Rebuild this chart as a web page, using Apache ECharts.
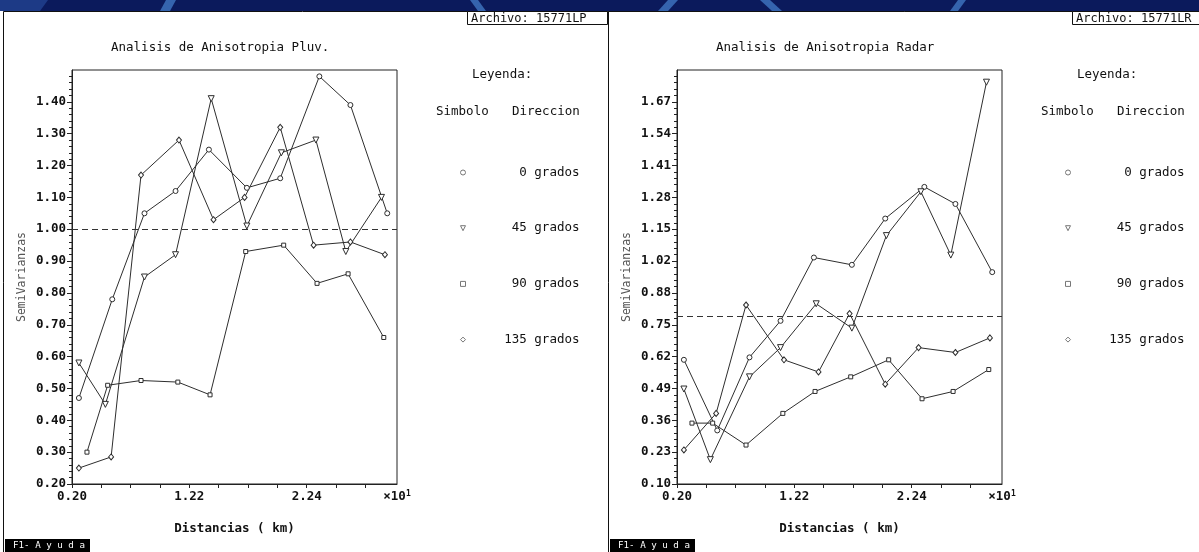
<!DOCTYPE html>
<html>
<head>
<meta charset="utf-8">
<script src="https://cdn.jsdelivr.net/npm/echarts@6/dist/echarts.min.js"></script>
<style>
  html, body { margin: 0; padding: 0; background: #ffffff; }
  #chart { width: 1199px; height: 552px; }
</style>
</head>
<body>
<div id="chart"></div>
<script>
// Lag distances (x10 km) for each direction
const dist0   = [0.26, 0.55, 0.83, 1.10, 1.39, 1.72, 2.01, 2.35, 2.62, 2.94];
const dist45  = [0.26, 0.49, 0.83, 1.10, 1.41, 1.72, 2.02, 2.32, 2.58, 2.89];
const dist90  = [0.33, 0.51, 0.80, 1.12, 1.40, 1.71, 2.04, 2.33, 2.60, 2.91];
const dist135 = [0.26, 0.54, 0.80, 1.13, 1.43, 1.70, 2.01, 2.30, 2.62, 2.92];

// Directional semivariances, rain gauges (Pluv.)
const pluv0   = [0.47, 0.78, 1.05, 1.12, 1.25, 1.13, 1.16, 1.48, 1.39, 1.05];
const pluv45  = [0.58, 0.45, 0.85, 0.92, 1.41, 1.01, 1.24, 1.28, 0.93, 1.10];
const pluv90  = [0.30, 0.51, 0.525, 0.52, 0.48, 0.93, 0.95, 0.83, 0.86, 0.66];
const pluv135 = [0.25, 0.285, 1.17, 1.28, 1.03, 1.10, 1.32, 0.95, 0.96, 0.92];

// Directional semivariances, radar
const radar0   = [0.61, 0.32, 0.62, 0.77, 1.03, 1.00, 1.19, 1.32, 1.25, 0.97];
const radar45  = [0.49, 0.20, 0.54, 0.66, 0.84, 0.74, 1.12, 1.30, 1.04, 1.75];
const radar90  = [0.35, 0.35, 0.26, 0.39, 0.48, 0.54, 0.61, 0.45, 0.48, 0.57];
const radar135 = [0.24, 0.39, 0.835, 0.61, 0.56, 0.80, 0.51, 0.66, 0.64, 0.70];

// Sill (total variance) reference lines
const pluvSill  = 1.00;
const radarSill = 0.79;

// Axis tick labels
const directions   = ['0 grados', '45 grados', '90 grados', '135 grados'];
const xTickLabels  = ['0.20', '1.22', '2.24'];
const pluvYLabels  = ['0.20', '0.30', '0.40', '0.50', '0.60', '0.70', '0.80', '0.90', '1.00', '1.10', '1.20', '1.30', '1.40'];
const radarYLabels = ['0.10', '0.23', '0.36', '0.49', '0.62', '0.75', '0.88', '1.02', '1.15', '1.28', '1.41', '1.54', '1.67'];

const MONO = 'DejaVu Sans Mono';
const INK = '#2e2e2e';
const X_MIN = 0.20, X_MAX = 3.025, X_STEP = 0.255;

const dirStyles = [
  { dist: dist0,   symbol: 'circle',                     size: 5 },
  { dist: dist45,  symbol: 'path://M0,0L10,0L5,10Z',      size: [6, 6] },
  { dist: dist90,  symbol: 'rect',                       size: 4 },
  { dist: dist135, symbol: 'diamond',                    size: [5, 6] }
];

const panels = [
  { title: 'Analisis de Anisotropia Pluv.', file: 'Archivo: 15771LP', yMin: 0.20, yMax: 1.50,
    yLabels: pluvYLabels, sill: pluvSill, values: [pluv0, pluv45, pluv90, pluv135], dx: 0, boxW: 140 },
  { title: 'Analisis de Anisotropia Radar', file: 'Archivo: 15771LR', yMin: 0.10, yMax: 1.80,
    yLabels: radarYLabels, sill: radarSill, values: [radar0, radar45, radar90, radar135], dx: 605, boxW: 160 }
];

function majorTicks(min, max) {
  const step = (max - min) / 13;
  const out = [];
  for (let k = 0; k <= 12; k++) out.push(min + k * step);
  return out;
}
function minorTicks(min, max) {
  const step = (max - min) / 65;
  const out = [];
  for (let j = 1; j < 65; j++) if (j % 5) out.push(min + j * step);
  return out;
}
const xTickValues = [];
for (let k = 0; k <= 10; k++) xTickValues.push(X_MIN + k * X_STEP);
const xLabelValues = xTickLabels.map(Number).concat([X_MAX]);

const grids = [], xAxes = [], yAxes = [], series = [], legends = [], titles = [], graphics = [];

// Screen frame: blue header band with light slanted stripes
graphics.push({ type: 'rect', shape: { x: 0, y: 0, width: 1199, height: 11 }, style: { fill: '#0b1a5c' }, silent: true });
graphics.push({ type: 'polygon', shape: { points: [[0, 0], [48, 0], [40, 11], [0, 11]] }, style: { fill: '#1d3a86' }, silent: true });
[
  [[166, 0], [176, 0], [170, 11], [160, 11]],
  [[470, 0], [478, 0], [486, 11], [478, 11]],
  [[668, 0], [678, 0], [668, 11], [658, 11]],
  [[760, 0], [770, 0], [782, 11], [772, 11]],
  [[958, 0], [966, 0], [958, 11], [950, 11]]
].forEach(pts => graphics.push({ type: 'polygon', shape: { points: pts }, style: { fill: '#3564ae' }, silent: true }));

panels.forEach((p, i) => {
  const dx = p.dx;
  const left = 72 + dx;

  // window frame of the panel (later panels sit on top of earlier ones)
  graphics.push({ type: 'rect', shape: { x: dx + 3.5, y: 11.5, width: 1199 - dx, height: 560 },
    style: { fill: '#ffffff', stroke: '#111', lineWidth: 1 }, silent: true, z: -10 + i * 2 });
  // file box
  graphics.push({ type: 'rect', shape: { x: dx + 467.5, y: 11.5, width: p.boxW, height: 13 },
    style: { fill: '#ffffff', stroke: '#111', lineWidth: 1 }, silent: true, z: -9 + i * 2 });
  graphics.push({ type: 'text', x: dx + 471, y: 18.5,
    style: { text: p.file, font: '12px "' + MONO + '"', fill: '#111', verticalAlign: 'middle' }, silent: true });
  // help key
  graphics.push({ type: 'rect', shape: { x: dx + 5, y: 539, width: 85, height: 13 }, style: { fill: '#000' }, silent: true });
  graphics.push({ type: 'text', x: dx + 13, y: 546,
    style: { text: 'F1- A y u d a', font: '9.2px "' + MONO + '"', fill: '#fff', verticalAlign: 'middle' }, silent: true });
  // legend headings
  graphics.push({ type: 'text', x: dx + 472, y: 75,
    style: { text: 'Leyenda:', font: '12.5px "' + MONO + '"', fill: '#111', verticalAlign: 'middle' }, silent: true });
  graphics.push({ type: 'text', x: dx + 436, y: 112,
    style: { text: 'Simbolo', font: '12.5px "' + MONO + '"', fill: '#111', verticalAlign: 'middle' }, silent: true });
  graphics.push({ type: 'text', x: dx + 512, y: 112,
    style: { text: 'Direccion', font: '12.5px "' + MONO + '"', fill: '#111', verticalAlign: 'middle' }, silent: true });

  titles.push({ text: p.title, left: dx + 111, top: 41, padding: 0,
    textStyle: { fontFamily: MONO, fontSize: 12.5, fontWeight: 'normal', color: '#111' } });

  grids.push({ left: left, top: 70, width: 325, height: 414, show: true,
    borderColor: '#222', borderWidth: 1, backgroundColor: 'transparent' });

  const textBase = { fontFamily: MONO, fontSize: 12.5, color: '#111' };

  xAxes.push({
    type: 'value', gridIndex: i, min: X_MIN, max: X_MAX, position: 'bottom',
    axisLine: { show: true, lineStyle: { color: '#222', width: 1 } },
    axisTick: { show: true, customValues: xTickValues, length: 4, inside: false, lineStyle: { color: '#222' } },
    axisLabel: {
      show: true, customValues: xLabelValues, margin: 6, fontWeight: 'bold', ...textBase,
      formatter: v => (v > 3 ? '×10{s|1}' : xTickLabels[Math.round((v - X_MIN) / (4 * X_STEP))]),
      rich: { s: { fontFamily: MONO, fontSize: 8, verticalAlign: 'top', color: '#111' } }
    },
    splitLine: { show: false },
    name: 'Distancias ( km)', nameLocation: 'middle', nameGap: 38,
    nameTextStyle: { ...textBase, fontWeight: 'bold', verticalAlign: 'top' }
  });

  const step = (p.yMax - p.yMin) / 13;
  const majors = majorTicks(p.yMin, p.yMax);
  yAxes.push({
    type: 'value', gridIndex: i, min: p.yMin, max: p.yMax, position: 'left', offset: 0,
    axisLine: { show: true, lineStyle: { color: '#222', width: 1 } },
    axisTick: { show: true, customValues: majors, length: 5, inside: false, lineStyle: { color: '#222' } },
    axisLabel: {
      show: true, customValues: majors, margin: 6, fontWeight: 'bold', ...textBase,
      formatter: v => p.yLabels[Math.round((v - p.yMin) / step)]
    },
    splitLine: { show: false },
    name: 'SemiVarianzas', nameLocation: 'middle', nameGap: 44, nameRotate: 90,
    nameTextStyle: { fontFamily: MONO, fontSize: 11.5, color: '#555' }
  });
  yAxes.push({
    type: 'value', gridIndex: i, min: p.yMin, max: p.yMax, position: 'left', offset: 0,
    axisLine: { show: false },
    axisTick: { show: true, customValues: minorTicks(p.yMin, p.yMax), length: 3, inside: false, lineStyle: { color: '#222' } },
    axisLabel: { show: false },
    splitLine: { show: false }
  });

  dirStyles.forEach((d, j) => {
    series.push({
      type: 'line', name: directions[j], xAxisIndex: i, yAxisIndex: 2 * i,
      data: d.dist.map((x, k) => [x, p.values[j][k]]),
      symbol: d.symbol, symbolSize: d.size, showSymbol: true, showAllSymbol: true,
      lineStyle: { color: INK, width: 1 },
      itemStyle: { color: '#ffffff', borderColor: INK, borderWidth: 1 },
      emphasis: { disabled: true }, silent: true, z: 3,
      markLine: j === 0 ? {
        silent: true, symbol: ['none', 'none'], label: { show: false },
        lineStyle: { type: [6, 4], color: '#333', width: 1 },
        data: [{ yAxis: p.sill }]
      } : undefined
    });
  });

  legends.push({
    orient: 'vertical', left: dx + 455, top: 161, itemGap: 42.7,
    itemWidth: 5, itemHeight: 5, selectedMode: false,
    data: directions.map((n, j) => ({ name: n, icon: dirStyles[j].symbol })),
    itemStyle: { color: '#ffffff', borderColor: '#777', borderWidth: 1 },
    formatter: n => '{t|' + n + '}',
    textStyle: { rich: { t: { width: 109, align: 'right', fontFamily: MONO, fontSize: 12.5, lineHeight: 14, color: '#111' } } }
  });
});

const chart = echarts.init(document.getElementById('chart'));
chart.setOption({
  animation: false,
  backgroundColor: '#ffffff',
  title: titles,
  legend: legends,
  grid: grids,
  xAxis: xAxes,
  yAxis: yAxes,
  series: series,
  graphic: { elements: graphics }
});
</script>
</body>
</html>
